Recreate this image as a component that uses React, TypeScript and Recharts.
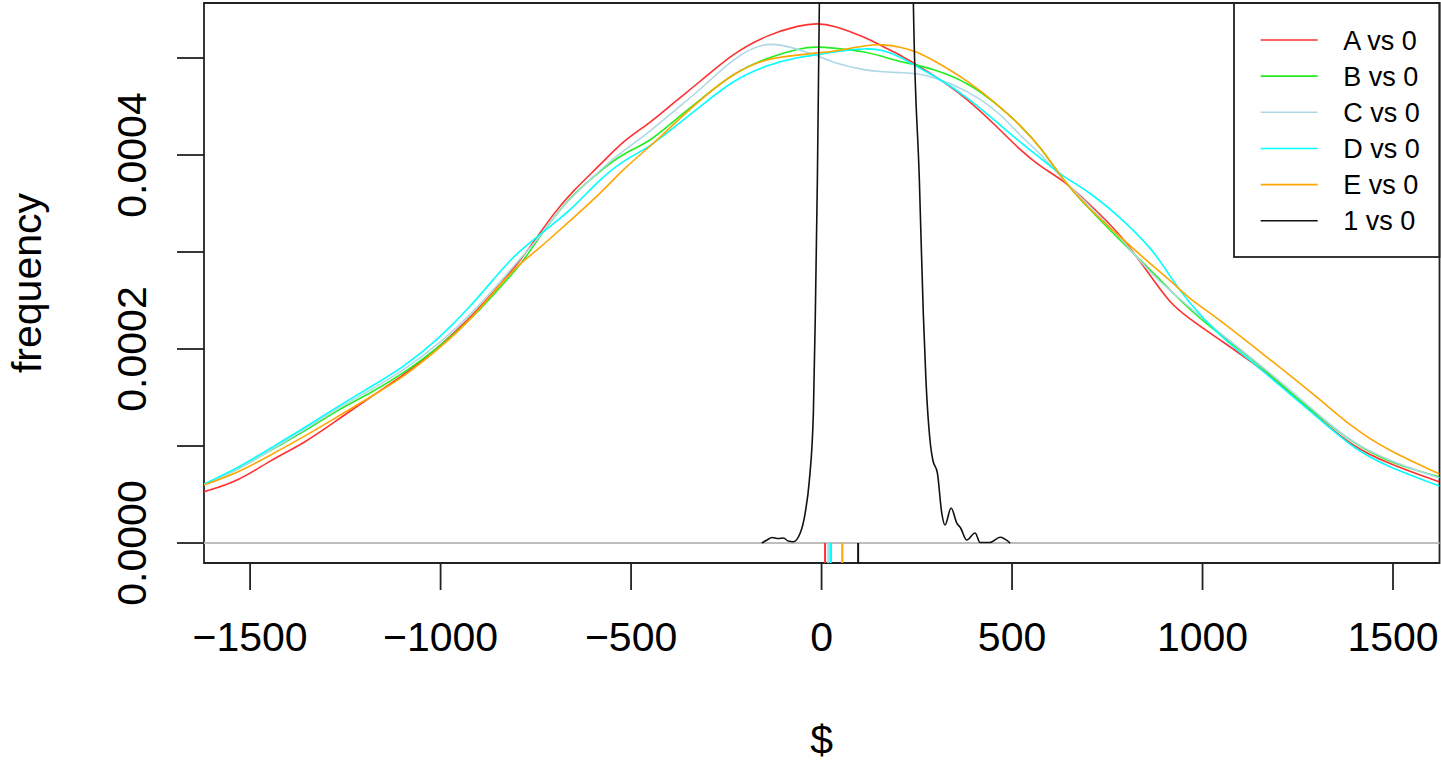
import React from 'react';
import { LineChart, Line, XAxis, YAxis, ReferenceLine, ReferenceArea } from 'recharts';

// density values are stored in units of 1e-4
const UNIT = 1e-4;

const X_GRID = [-1621, -1533, -1446, -1358, -1271, -1183, -1096, -1008, -921, -834, -790, -746, -702, -658, -576, -518, -450, -385, -319, -232, -144, -56, -13, 31, 119, 162, 206, 250, 293, 382, 469, 521, 574, 634, 696, 783, 871, 915, 958, 1046, 1134, 1222, 1310, 1395, 1484, 1622];

const A_VS_0 = [0.529, 0.632, 0.856, 1.028, 1.268, 1.508, 1.732, 2.010, 2.320, 2.711, 2.918, 3.158, 3.402, 3.608, 3.918, 4.155, 4.330, 4.550, 4.756, 5.050, 5.237, 5.340, 5.358, 5.340, 5.206, 5.116, 5.031, 4.928, 4.825, 4.585, 4.258, 4.052, 3.879, 3.742, 3.519, 3.196, 2.711, 2.474, 2.333, 2.093, 1.856, 1.577, 1.268, 0.993, 0.825, 0.629];
const B_VS_0 = [0.605, 0.753, 0.959, 1.147, 1.371, 1.546, 1.753, 2.010, 2.299, 2.680, 2.866, 3.124, 3.364, 3.570, 3.856, 4.021, 4.137, 4.361, 4.567, 4.845, 5.000, 5.103, 5.116, 5.103, 5.065, 5.013, 4.962, 4.928, 4.884, 4.756, 4.498, 4.309, 4.086, 3.742, 3.467, 3.124, 2.784, 2.608, 2.436, 2.144, 1.887, 1.577, 1.289, 1.031, 0.838, 0.680];
const C_VS_0 = [0.603, 0.753, 0.959, 1.165, 1.392, 1.577, 1.784, 2.041, 2.351, 2.732, 2.938, 3.124, 3.371, 3.557, 3.866, 4.052, 4.240, 4.464, 4.670, 5.000, 5.186, 5.082, 5.031, 4.948, 4.869, 4.859, 4.848, 4.842, 4.807, 4.670, 4.433, 4.196, 4.021, 3.742, 3.505, 3.158, 2.745, 2.608, 2.454, 2.165, 1.887, 1.611, 1.302, 1.031, 0.856, 0.670];
const D_VS_0 = [0.608, 0.773, 0.979, 1.186, 1.405, 1.611, 1.818, 2.093, 2.436, 2.849, 3.021, 3.158, 3.299, 3.433, 3.773, 3.948, 4.086, 4.292, 4.498, 4.773, 4.928, 5.013, 5.031, 5.065, 5.103, 5.082, 5.013, 4.910, 4.825, 4.601, 4.309, 4.134, 3.969, 3.776, 3.639, 3.364, 3.021, 2.745, 2.505, 2.127, 1.856, 1.560, 1.268, 0.979, 0.787, 0.588];
const E_VS_0 = [0.598, 0.722, 0.907, 1.096, 1.302, 1.508, 1.714, 1.990, 2.299, 2.711, 2.887, 3.021, 3.175, 3.330, 3.619, 3.866, 4.086, 4.330, 4.567, 4.845, 5.000, 5.031, 5.055, 5.065, 5.134, 5.141, 5.116, 5.065, 4.979, 4.773, 4.498, 4.309, 4.086, 3.742, 3.467, 3.158, 2.849, 2.711, 2.539, 2.299, 2.024, 1.753, 1.474, 1.186, 0.959, 0.711];

const ONE_X = [-157, -143, -130, -114, -100, -88, -74, -56, -43, -32, -21.5, -16.3, -11, -5.8, 5, 50, 100, 150, 200, 228, 241, 256.7, 267, 274, 286.6, 292, 304, 315.5, 324, 340, 355, 365, 381, 403, 416, 442, 468.5, 495];
const ONE_VS_0 = [0, 0.031, 0.057, 0.046, 0.052, 0.021, 0.013, 0.103, 0.309, 0.649, 1.340, 2.371, 3.742, 5.567, 12, 25, 30, 30, 25, 12, 5.567, 3.742, 2.371, 1.680, 0.990, 0.856, 0.722, 0.309, 0.186, 0.361, 0.206, 0.155, 0.031, 0.103, 0.005, 0.005, 0.059, 0];

// rug positions (A, B, C, D, E, 1)
const RUG_X = [9.2, 24, 17.6, 24, 54.4, 96];

const SERIES_NAMES = ['A vs 0', 'B vs 0', 'C vs 0', 'D vs 0', 'E vs 0', '1 vs 0'];
const SERIES_KEYS = ['A', 'B', 'C', 'D', 'E', 'one'];
const SERIES_COLORS = ['#ff3030', '#22ee22', '#add8e6', '#00ffff', '#ffa500', '#111111'];

const X_TICKS = [-1500, -1000, -500, 0, 500, 1000, 1500];
const Y_TICKS = [0, 0.0001, 0.0002, 0.0003, 0.0004, 0.0005];
const Y_LABEL_TICKS = [0, 0.0002, 0.0004];
const X_DOMAIN: [number, number] = [-1621, 1622];
const Y_DOMAIN: [number, number] = [-0.0000206, 0.0005567];

const mainData = X_GRID.map((x, i) => ({
  x,
  A: A_VS_0[i] * UNIT,
  B: B_VS_0[i] * UNIT,
  C: C_VS_0[i] * UNIT,
  D: D_VS_0[i] * UNIT,
  E: E_VS_0[i] * UNIT,
}));
const oneData = ONE_X.map((x, i) => ({ x, one: ONE_VS_0[i] * UNIT }));

const FONT = '"Liberation Sans", Arial, sans-serif';
const AXIS_COLOR = '#222';

const XTick = (props: any) => {
  const { x, y, payload } = props;
  const v = payload.value as number;
  const s = v < 0 ? '\u2212' + Math.abs(v) : String(v);
  return (
    <text x={x} y={y + 59} textAnchor="middle" fontSize={41} fontFamily={FONT} fill="#000">
      {s}
    </text>
  );
};

const YTick = (props: any) => {
  const { x, y, payload } = props;
  const v = payload.value as number;
  if (!Y_LABEL_TICKS.some((t) => Math.abs(t - v) < 1e-12)) return <g />;
  const bx = x - 29;
  return (
    <text
      x={bx}
      y={y}
      transform={`rotate(-90 ${bx} ${y})`}
      textAnchor="middle"
      fontSize={41}
      fontFamily={FONT}
      fill="#000"
    >
      {v.toFixed(4)}
    </text>
  );
};

export default function App() {
  return (
    <div style={{ position: 'absolute', left: 0, top: 0, width: 1441, height: 764, background: '#fff' }}>
      <LineChart width={1441} height={764} margin={{ top: 3, right: 1.5, left: 0, bottom: 0 }}>
        <XAxis
          dataKey="x"
          type="number"
          domain={X_DOMAIN}
          allowDataOverflow
          ticks={X_TICKS}
          height={201}
          axisLine={false}
          tickSize={27}
          tickLine={{ stroke: AXIS_COLOR, strokeWidth: 1.8 }}
          tick={<XTick />}
          interval={0}
        />
        <YAxis
          type="number"
          domain={Y_DOMAIN}
          allowDataOverflow
          ticks={Y_TICKS}
          width={204}
          axisLine={false}
          tickSize={27}
          tickLine={{ stroke: AXIS_COLOR, strokeWidth: 1.8 }}
          tick={<YTick />}
          interval={0}
        />
        <ReferenceLine y={0} stroke="#bebebe" strokeWidth={1.8} />
        {SERIES_KEYS.slice(0, 5).map((k, i) => (
          <Line
            key={k}
            data={mainData}
            dataKey={k}
            name={SERIES_NAMES[i]}
            type="basis"
            stroke={SERIES_COLORS[i]}
            strokeWidth={1.6}
            dot={false}
            activeDot={false}
            isAnimationActive={false}
          />
        ))}
        <Line
          data={oneData}
          dataKey="one"
          name={SERIES_NAMES[5]}
          type="monotone"
          stroke={SERIES_COLORS[5]}
          strokeWidth={1.6}
          dot={false}
          activeDot={false}
          isAnimationActive={false}
        />
        {RUG_X.map((v, i) => (
          <ReferenceLine
            key={'rug' + i}
            segment={[
              { x: v, y: Y_DOMAIN[0] },
              { x: v, y: 0 },
            ]}
            stroke={SERIES_COLORS[i]}
            strokeWidth={2}
          />
        ))}
        <ReferenceArea
          x1={X_DOMAIN[0]}
          x2={X_DOMAIN[1]}
          y1={Y_DOMAIN[0]}
          y2={Y_DOMAIN[1]}
          fill="none"
          fillOpacity={0}
          stroke={AXIS_COLOR}
          strokeWidth={1.8}
        />
      </LineChart>
      <svg
        width={1441}
        height={764}
        style={{ position: 'absolute', left: 0, top: 0, pointerEvents: 'none' }}
      >
        <text x={821.75} y={754} textAnchor="middle" fontSize={41} fontFamily={FONT} fill="#000">
          $
        </text>
        <text
          x={41}
          y={283}
          transform="rotate(-90 41 283)"
          textAnchor="middle"
          fontSize={41}
          fontFamily={FONT}
          fill="#000"
        >
          frequency
        </text>
        <rect x={1234} y={3} width={205.5} height={254} fill="none" stroke={AXIS_COLOR} strokeWidth={1.8} />
        {SERIES_NAMES.map((n, i) => {
          const cy = 40 + i * 36.15;
          return (
            <g key={n}>
              <line x1={1260.7} x2={1317.7} y1={cy} y2={cy} stroke={SERIES_COLORS[i]} strokeWidth={1.6} />
              <text x={1343.3} y={cy + 9.7} fontSize={27} fontFamily={FONT} fill="#000">
                {n}
              </text>
            </g>
          );
        })}
      </svg>
    </div>
  );
}
